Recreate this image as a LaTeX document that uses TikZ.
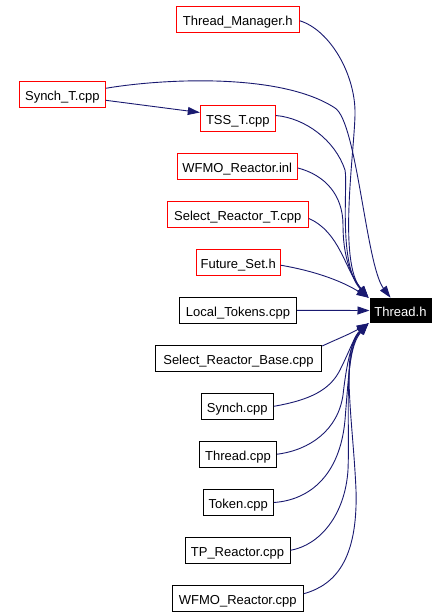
\documentclass[tikz,border=0pt]{standalone}
\usepackage{fontspec}
\setmainfont{Liberation Sans}
\usetikzlibrary{arrows.meta,calc}
\definecolor{edgeblue}{RGB}{25,25,112}
\begin{document}
\begin{tikzpicture}[x=1bp,y=-1bp,
  box/.style={draw,rectangle,inner sep=0pt,minimum height=25.6bp,line width=1bp,text height=11.8bp,text depth=0bp,font=\fontsize{13bp}{15bp}\selectfont},
  redbox/.style={box,draw=red},
  blackbox/.style={box,draw=black},
  edge/.style={draw=edgeblue,line width=0.9bp,-{Triangle[length=12bp,width=8bp]},edgeblue}]
\useasboundingbox (0,0) rectangle (448,616);
\node[redbox,minimum width=123bp] (tm) at (237.8,19.8) {Thread\_Manager.h};
\node[redbox,minimum width=86bp] (st) at (62.3,94.3) {Synch\_T.cpp};
\node[redbox,minimum width=75bp] (tss) at (237.8,118.5) {TSS\_T.cpp};
\node[redbox,minimum width=120.3bp] (wi) at (237.2,166.5) {WFMO\_Reactor.inl};
\node[redbox,minimum width=141bp] (srt) at (237.8,214.5) {Select\_Reactor\_T.cpp};
\node[redbox,minimum width=84bp] (fs) at (238.2,262.2) {Future\_Set.h};
\node[blackbox,minimum width=117.4bp] (lt) at (238,310.3) {Local\_Tokens.cpp};
\node[blackbox,minimum width=166.4bp] (srb) at (238.5,358.3) {Select\_Reactor\_Base.cpp};
\node[blackbox,minimum width=72.3bp] (sy) at (237.2,406.3) {Synch.cpp};
\node[blackbox,minimum width=77.4bp] (thc) at (238,454.2) {Thread.cpp};
\node[blackbox,minimum width=70bp] (tk) at (238.3,502.5) {Token.cpp};
\node[blackbox,minimum width=105bp] (tp) at (237.5,550.3) {TP\_Reactor.cpp};
\node[blackbox,minimum width=131bp] (wc) at (237.8,598.7) {WFMO\_Reactor.cpp};
\node[box,fill=black,text=white,minimum width=61bp,minimum height=24.5bp] (th) at (400.5,310.5) {Thread.h};
\coordinate (tipA) at ($(th.north west)+(-1,0)$);
\coordinate (tipB) at ($(th.north west)+(21,0)$);
\coordinate (tipD) at ($(th.south west)+(-1,0)$);
% upper group
\draw[edge] ($(tm.east)+(0,1)$) .. controls (330,30) and (356,75) .. (355,115) .. controls (354,155) and (338,262) .. (tipA);
\draw[edge] ($(st.east)+(0,-6)$) .. controls (160,79) and (280,72) .. (335,108) .. controls (357,122) and (366,265) .. (tipB);
\draw[edge] ($(st.east)+(0,6)$) -- ($(tss.west)+(0,-6)$);
\draw[edge] ($(tss.east)+(0,-3)$) .. controls (305,118) and (335,140) .. (345,170) .. controls (348,185) and (338,265) .. (tipA);
\draw[edge] ($(wi.east)+(0,1.5)$) .. controls (325,175) and (343,195) .. (343,225) .. controls (343,255) and (350,275) .. (tipA);
\draw[edge] ($(srt.east)+(0,4)$) .. controls (340,232) and (345,270) .. (tipA);
\draw[edge] ($(fs.east)+(0,3)$) .. controls (320,272) and (345,283) .. (tipA);
\draw[edge] (lt.east) -- (th.west);
% lower group
\draw[edge] ($(srb.north east)+(0,1)$) .. controls (335,340) and (350,334) .. (tipD);
\draw[edge] (sy.east) .. controls (310,400) and (330,390) .. (340,370) .. controls (350,350) and (355,335) .. (tipD);
\draw[edge] (thc.east) .. controls (310,450) and (338,430) .. (343,395) .. controls (347,360) and (352,340) .. (tipD);
\draw[edge] (tk.east) .. controls (310,500) and (340,475) .. (345,420) .. controls (349,370) and (350,345) .. (tipD);
\draw[edge] (tp.east) .. controls (320,545) and (345,515) .. (348,470) .. controls (350,420) and (343,350) .. (tipD);
\draw[edge] ($(wc.east)+(0,-5)$) .. controls (335,585) and (358,560) .. (356,490) .. controls (353,420) and (340,350) .. (tipD);
\end{tikzpicture}
\end{document}
